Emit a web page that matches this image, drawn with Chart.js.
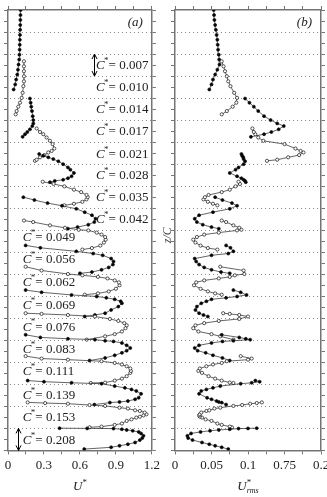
<!DOCTYPE html>
<html><head><meta charset="utf-8">
<script src="https://cdn.jsdelivr.net/npm/chart.js@4/dist/chart.umd.min.js"></script>
<style>
html,body{margin:0;padding:0;background:#fff;overflow:hidden;}
#wrap{position:relative;width:327px;height:497px;overflow:hidden;}
#c1{position:absolute;left:0;top:0;}
#c2{position:absolute;left:163px;top:0;}
</style></head><body>
<div id="wrap"><canvas id="c1" width="163" height="497"></canvas><canvas id="c2" width="172" height="497"></canvas></div>
<script>
// ---- data: each profile = z (vertical offset position), U*, U*rms ----
const z208 = [0.06,0.14,0.21,0.28,0.36,0.47,0.56,0.66,0.77,0.84,0.89,0.93,0.96,0.99,1.00,1.01];
const u208 = [0.636,0.86,0.93,1.00,1.06,1.10,1.12,1.13,1.11,1.09,1.04,0.99,0.95,0.88,0.66,0.43];
const r208 = [0.073,0.064,0.055,0.047,0.037,0.024,0.018,0.017,0.022,0.035,0.048,0.060,0.075,0.087,0.100,0.112];

const z153 = [1.05,1.08,1.16,1.22,1.34,1.41,1.49,1.53,1.59,1.64,1.72,1.79,1.82,1.90,1.94,2.02,2.06,2.12,2.15,2.18];
const u153 = [0.68,0.78,0.89,0.95,0.99,1.03,1.07,1.10,1.13,1.155,1.14,1.10,1.06,1.00,0.93,0.81,0.68,0.50,0.31,0.164];
const r153 = [0.078,0.075,0.064,0.058,0.050,0.042,0.037,0.034,0.033,0.034,0.036,0.043,0.047,0.054,0.062,0.080,0.092,0.103,0.112,0.119];

const z139 = [2.08,2.17,2.20,2.24,2.32,2.39,2.57,2.70,2.77,2.84,2.92,3.03,3.07,3.12,3.17];
const u139 = [0.72,0.85,0.93,1.00,1.06,1.09,1.11,1.07,1.03,0.975,0.89,0.78,0.53,0.30,0.164];
const r139 = [0.070,0.064,0.060,0.057,0.050,0.044,0.033,0.036,0.043,0.052,0.062,0.090,0.105,0.116,0.110];

const z111 = [3.06,3.08,3.17,3.26,3.37,3.52,3.61,3.72,3.82,3.90,3.97,4.05,4.12,4.17,4.28];
const u111 = [0.69,0.81,0.89,0.95,0.99,1.02,1.025,1.02,0.99,0.95,0.89,0.78,0.50,0.28,0.147];
const r111 = [0.080,0.075,0.064,0.055,0.046,0.037,0.032,0.034,0.043,0.052,0.064,0.071,0.100,0.105,0.090];

const z083 = [4.08,4.20,4.32,4.43,4.53,4.65,4.77,4.88,4.95,4.98,5.03,5.07,5.13,5.25];
const u083 = [0.68,0.81,0.89,0.95,0.99,1.02,0.99,0.95,0.88,0.81,0.725,0.50,0.27,0.147];
const r083 = [0.075,0.065,0.052,0.042,0.031,0.027,0.033,0.050,0.065,0.080,0.103,0.097,0.088,0.064];

const z076 = [5.03,5.18,5.28,5.40,5.55,5.68,5.78,5.88,5.97,6.08,6.15,6.20,6.23];
const u076 = [0.656,0.81,0.89,0.95,0.98,0.99,0.97,0.92,0.85,0.725,0.50,0.28,0.147];
const r076 = [0.080,0.062,0.050,0.032,0.025,0.028,0.040,0.060,0.088,0.100,0.088,0.075,0.066];

const z069 = [6.08,6.15,6.23,6.38,6.53,6.68,6.77,6.86,6.93,6.99,7.06,7.18,7.28];
const u069 = [0.64,0.725,0.81,0.86,0.92,0.95,0.94,0.89,0.82,0.74,0.53,0.28,0.147];
const r069 = [0.045,0.039,0.033,0.028,0.030,0.036,0.043,0.050,0.070,0.085,0.098,0.090,0.080];

const z062 = [7.07,7.13,7.22,7.34,7.50,7.63,7.72,7.81,7.88,7.95,8.01,8.17,8.34];
const u062 = [0.64,0.75,0.84,0.90,0.93,0.925,0.89,0.83,0.75,0.62,0.50,0.28,0.147];
const r062 = [0.064,0.055,0.045,0.035,0.026,0.029,0.040,0.060,0.075,0.082,0.095,0.094,0.062];

const z056 = [8.04,8.10,8.20,8.31,8.44,8.58,8.71,8.86,8.94,9.04,9.20,9.31];
const u056 = [0.60,0.70,0.78,0.84,0.875,0.88,0.86,0.79,0.71,0.57,0.27,0.147];
const r056 = [0.075,0.063,0.050,0.040,0.033,0.029,0.027,0.050,0.073,0.080,0.076,0.070];

const z049 = [9.12,9.19,9.30,9.44,9.57,9.69,9.80,9.89,9.99,10.02,10.11,10.22,10.37,10.44];
const u049 = [0.62,0.70,0.77,0.80,0.815,0.81,0.78,0.74,0.67,0.59,0.475,0.35,0.21,0.133];
const r049 = [0.058,0.045,0.035,0.028,0.025,0.030,0.040,0.060,0.085,0.091,0.088,0.080,0.070,0.064];

const z042 = [10.07,10.14,10.25,10.37,10.52,10.68,10.82,10.97,11.11,11.23,11.37,11.50];
const u042 = [0.50,0.58,0.67,0.72,0.73,0.70,0.64,0.57,0.45,0.33,0.22,0.128];
const r042 = [0.060,0.050,0.038,0.030,0.027,0.033,0.052,0.075,0.085,0.078,0.065,0.055];

const z035 = [11.13,11.20,11.29,11.40,11.50,11.60,11.73,11.84,11.99,12.10,12.20];
const u035 = [0.47,0.55,0.62,0.655,0.665,0.655,0.61,0.55,0.47,0.38,0.29];
const r035 = [0.058,0.052,0.045,0.039,0.041,0.046,0.064,0.075,0.083,0.089,0.087];

const z028 = [12.18,12.24,12.29,12.36,12.45,12.60,12.75,12.85,13.00,13.13,13.23,13.31,13.38,13.46];
const u028 = [0.35,0.39,0.46,0.50,0.53,0.55,0.52,0.50,0.46,0.42,0.378,0.336,0.294,0.26];
const r028 = [0.097,0.096,0.094,0.091,0.085,0.075,0.083,0.087,0.094,0.096,0.094,0.0935,0.092,0.091];

const z021 = [13.15,13.20,13.31,13.41,13.53,13.60,13.71,13.91,14.06,14.21,14.36,14.46,14.62];
const u021 = [0.225,0.239,0.267,0.303,0.336,0.364,0.386,0.372,0.35,0.322,0.294,0.267,0.239];
const r021 = [0.126,0.140,0.155,0.170,0.176,0.172,0.165,0.150,0.121,0.114,0.110,0.108,0.106];

const z017 = [14.24,14.36,14.46,14.58,14.73,14.85,15.00,15.18,15.41,15.61,15.79,15.98];
const u017 = [0.122,0.142,0.161,0.183,0.203,0.211,0.211,0.206,0.200,0.194,0.189,0.183];
const r017 = [0.104,0.122,0.132,0.142,0.149,0.140,0.131,0.122,0.114,0.108,0.102,0.096];

const z014 = [15.26,15.41,15.61,15.79,16.01,16.24,16.54,16.76,16.99,17.22,17.44,17.67];
const u014 = [0.064,0.072,0.086,0.100,0.114,0.122,0.128,0.133,0.133,0.133,0.133,0.133];
const r014 = [0.064,0.071,0.079,0.084,0.085,0.081,0.076,0.073,0.071,0.0685,0.0665,0.064];

const z010 = [16.39,16.62,16.84,17.07,17.29,17.52,17.75,17.97,18.20,18.42,18.65,18.87,19.10,19.32,19.55,19.77,20.00];
const u010 = [0.047,0.060,0.068,0.077,0.083,0.088,0.093,0.095,0.097,0.098,0.099,0.100,0.101,0.102,0.103,0.104,0.105];
const r010 = [0.047,0.050,0.052,0.055,0.058,0.061,0.0605,0.060,0.059,0.0585,0.058,0.057,0.056,0.055,0.054,0.0535,0.053];

// C* labels (top to bottom) and tick labels
const labelTexts = ['0.007','0.010','0.014','0.017','0.021','0.028','0.035','0.042','0.049','0.056','0.062','0.069','0.076','0.083','0.111','0.139','0.153','0.208'];
const labelZ = [17.47,16.48,15.49,14.49,13.45,12.46,11.47,10.47,9.66,8.67,7.63,6.59,5.60,4.56,3.57,2.48,1.49,0.45];
const xTickValsA = [0, 0.3, 0.6, 0.9, 1.2];
const xTickTextA = ['0','0.3','0.6','0.9','1.2'];
const xTickValsB = [0, 0.05, 0.1, 0.15, 0.2];
const xTickTextB = ['0','0.05','0.1','0.75','0.2'];

// ---- assembly ----
const profZ = [z208,z153,z139,z111,z083,z076,z069,z062,z056,z049,z042,z035,z028,z021,z017,z014,z010];
const profU = [u208,u153,u139,u111,u083,u076,u069,u062,u056,u049,u042,u035,u028,u021,u017,u014,u010];
const profR = [r208,r153,r139,r111,r083,r076,r069,r062,r056,r049,r042,r035,r028,r021,r017,r014,r010];

const SERIF = '"Liberation Serif","Times New Roman",serif';
const FRAME = '#747474';
const TXT = '#222';

function buildSets(vals) {
  return profZ.map((zs, i) => {
    const filled = i % 2 === 0;
    return {
      data: zs.map((z, j) => ({x: vals[i][j], y: z})),
      showLine: true, borderColor: '#222', borderWidth: 0.7,
      pointRadius: filled ? 1.5 : 1.6, pointBorderWidth: 0.7,
      pointBackgroundColor: filled ? '#000' : '#fff', pointBorderColor: '#111',
      fill: false, tension: 0
    };
  });
}

const dotGrid = {
  id: 'dotGrid',
  beforeDatasetsDraw(chart) {
    const {ctx, chartArea: a} = chart; const y = chart.scales.y;
    ctx.save(); ctx.strokeStyle = '#8c8c8c'; ctx.lineWidth = 1; ctx.setLineDash([1, 3]);
    for (let k = 1; k < 20; k++) {
      const py = Math.round(y.getPixelForValue(k)) + 0.5;
      ctx.beginPath(); ctx.moveTo(a.left + 2, py); ctx.lineTo(a.right - 1, py); ctx.stroke();
    }
    ctx.restore();
  }
};

function drawUTitle(ctx, cx, base, sub) {
  ctx.save(); ctx.fillStyle = TXT; ctx.textBaseline = 'alphabetic'; ctx.textAlign = 'left';
  const fU = 'italic 13px ' + SERIF, fS = '9px ' + SERIF, fSub = 'italic 8px ' + SERIF;
  ctx.font = fU; const wU = ctx.measureText('U').width;
  ctx.font = fS; const wS = ctx.measureText('*').width;
  let wSub = 0; if (sub) { ctx.font = fSub; wSub = ctx.measureText(sub).width; }
  const x = cx - (wU + Math.max(wS, wSub)) / 2;
  ctx.font = fU; ctx.fillText('U', x, base);
  ctx.font = fS; ctx.fillText('*', x + wU, base - 5);
  if (sub) { ctx.font = fSub; ctx.fillText(sub, x + wU, base + 3); }
  ctx.restore();
}

function drawCLabel(ctx, x, y, val, align) {
  ctx.save(); ctx.fillStyle = TXT; ctx.textBaseline = 'middle'; ctx.textAlign = 'left';
  const fC = 'italic 13px ' + SERIF, fS = '9px ' + SERIF, fR = '13px ' + SERIF;
  const rest = '= ' + val;
  ctx.font = fC; const wC = ctx.measureText('C').width;
  ctx.font = fS; const wS = ctx.measureText('*').width;
  ctx.font = fR; const wR = ctx.measureText(rest).width;
  const x0 = align === 'right' ? x - (wC + wS + wR) : x;
  ctx.font = fC; ctx.fillText('C', x0, y);
  ctx.font = fS; ctx.fillText('*', x0 + wC - 0.5, y - 5);
  ctx.font = fR; ctx.fillText(rest, x0 + wC + wS - 0.5, y);
  ctx.restore();
}

function dblArrow(ctx, x, yTop, yBot) {
  ctx.save(); ctx.strokeStyle = '#000'; ctx.lineWidth = 1;
  ctx.beginPath(); ctx.moveTo(x, yTop); ctx.lineTo(x, yBot); ctx.stroke();
  ctx.beginPath(); ctx.moveTo(x - 2.5, yTop + 5); ctx.lineTo(x, yTop); ctx.lineTo(x + 2.5, yTop + 5); ctx.stroke();
  ctx.beginPath(); ctx.moveTo(x - 2.5, yBot - 5); ctx.lineTo(x, yBot); ctx.lineTo(x + 2.5, yBot - 5); ctx.stroke();
  ctx.restore();
}

const annotA = {
  id: 'annotA',
  afterDraw(chart) {
    const {ctx, chartArea: a} = chart; const xs = chart.scales.x, ys = chart.scales.y;
    labelTexts.forEach((t, i) => {
      const right = i < 8;
      const px = right ? xs.getPixelForValue(1.175) : xs.getPixelForValue(0.122);
      drawCLabel(ctx, px, ys.getPixelForValue(labelZ[i]), t, right ? 'right' : 'left');
    });
    dblArrow(ctx, Math.round(xs.getPixelForValue(0.72)) + 0.5, ys.getPixelForValue(18), ys.getPixelForValue(17));
    dblArrow(ctx, Math.round(xs.getPixelForValue(0.085)) + 0.5, ys.getPixelForValue(1), ys.getPixelForValue(0));
    ctx.save(); ctx.fillStyle = TXT; ctx.font = 'italic 13px ' + SERIF; ctx.textAlign = 'right'; ctx.textBaseline = 'middle';
    ctx.fillText('(a)', a.right - 9, a.top + 13); ctx.restore();
    drawUTitle(ctx, (a.left + a.right) / 2, a.bottom + 40, null);
  }
};

const annotB = {
  id: 'annotB',
  afterDraw(chart) {
    const {ctx, chartArea: a} = chart;
    ctx.save(); ctx.fillStyle = TXT; ctx.font = 'italic 13px ' + SERIF; ctx.textAlign = 'right'; ctx.textBaseline = 'middle';
    ctx.fillText('(b)', a.right - 9, a.top + 13); ctx.restore();
    drawUTitle(ctx, (a.left + a.right) / 2, a.bottom + 40, 'rms');
    ctx.save(); ctx.fillStyle = '#444'; ctx.font = 'italic 12px ' + SERIF; ctx.textAlign = 'center'; ctx.textBaseline = 'middle';
    ctx.translate(a.left - 7, (a.top + a.bottom) / 2 + 5); ctx.rotate(-Math.PI / 2);
    ctx.fillText('z/C', 0, 0); ctx.restore();
  }
};

function tickCb(vals, texts) {
  return (v) => { for (let i = 0; i < vals.length; i++) if (Math.abs(v - vals[i]) < 1e-6) return texts[i]; return ''; };
}

function scalesFor(xmax, xstep, vals, texts) {
  const border = {display: true, color: FRAME, width: 1.5};
  const grid = {drawOnChartArea: false, tickLength: 4, tickColor: FRAME, tickWidth: 1};
  return {
    x: {type: 'linear', position: 'bottom', min: 0, max: xmax,
        ticks: {stepSize: xstep, autoSkip: false, maxRotation: 0, padding: 3, color: TXT,
                font: {family: SERIF, size: 13}, callback: tickCb(vals, texts)},
        grid: grid, border: border},
    xt: {type: 'linear', position: 'top', min: 0, max: xmax,
         ticks: {display: false, stepSize: xstep}, grid: grid, border: border},
    y: {type: 'linear', position: 'left', min: 0, max: 20,
        ticks: {display: false, stepSize: 0.5}, grid: grid, border: border},
    yr: {type: 'linear', position: 'right', min: 0, max: 20,
         ticks: {display: false, stepSize: 0.5}, grid: grid, border: border}
  };
}

const common = {
  responsive: false, animation: false, devicePixelRatio: 1,
  plugins: {legend: {display: false}, tooltip: {enabled: false}},
  events: []
};

new Chart(document.getElementById('c1'), {
  type: 'scatter',
  data: {datasets: buildSets(profU)},
  options: Object.assign({}, common, {
    layout: {padding: {left: 4, right: 6, top: 6, bottom: 21}},
    scales: scalesFor(1.2, 0.15, xTickValsA, xTickTextA)
  }),
  plugins: [dotGrid, annotA]
});

new Chart(document.getElementById('c2'), {
  type: 'scatter',
  data: {datasets: buildSets(profR)},
  options: Object.assign({}, common, {
    layout: {padding: {left: 8, right: 10, top: 6, bottom: 21}},
    scales: scalesFor(0.2, 0.025, xTickValsB, xTickTextB)
  }),
  plugins: [dotGrid, annotB]
});
</script></body></html>
